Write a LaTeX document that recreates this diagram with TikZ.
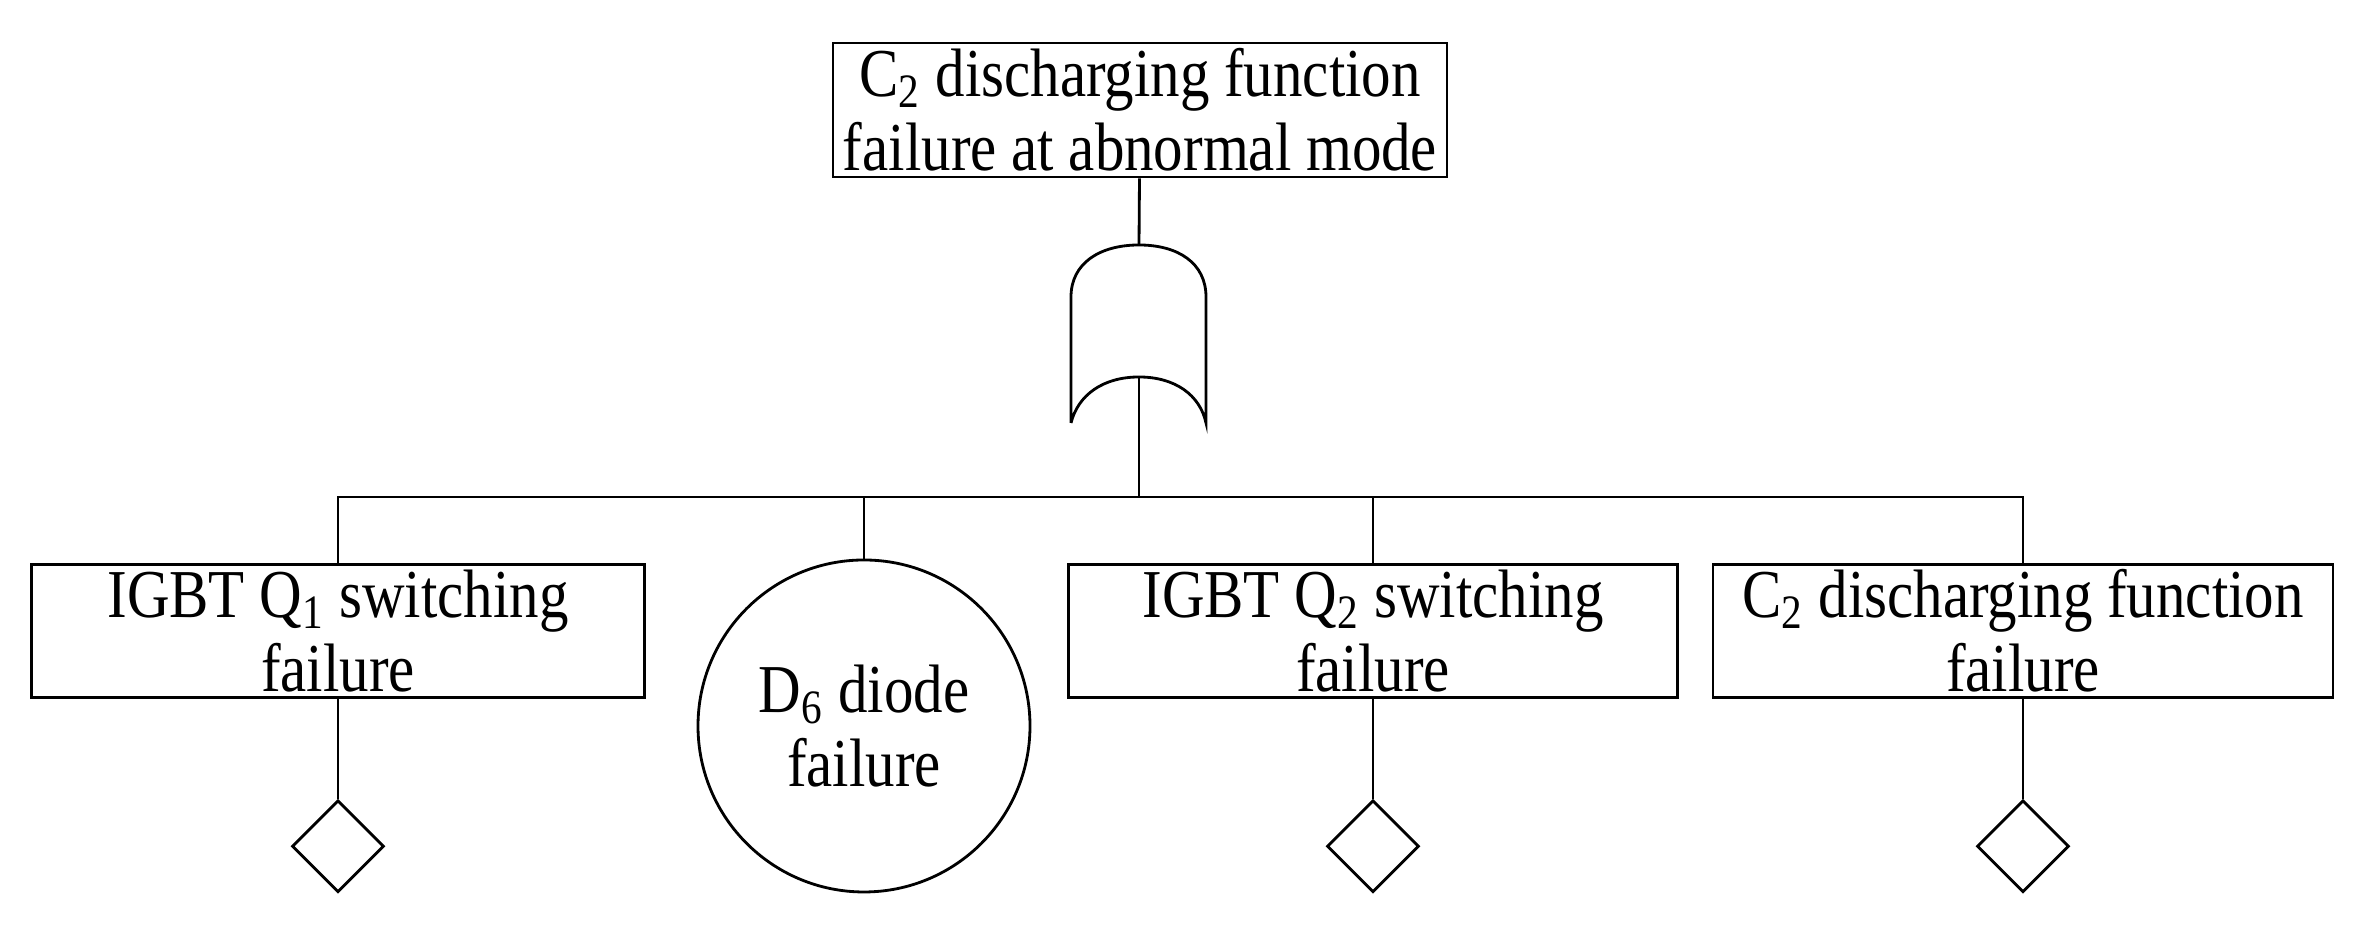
\documentclass[tikz,border=0pt]{standalone}
\usepackage{fontspec}
\setmainfont{Liberation Serif}[FakeStretch=0.86]
\usetikzlibrary{shapes.geometric}
\tikzset{
  event/.style={rectangle, draw, thick, text centered, align=center, inner sep=0pt,
                minimum height=1.33cm, font=\fontsize{19.5}{21}\selectfont},
  basic/.style={circle, draw, thick, minimum size=3.32cm, align=center, inner sep=0pt,
                font=\fontsize{19.5}{21}\selectfont},
  undev/.style={diamond, draw, thick, minimum size=0.92cm, inner sep=0pt},
}
\begin{document}
\begin{tikzpicture}[thick]
\useasboundingbox (0,0) rectangle (23.75,9.25);
% top event
\node [event, minimum width=6.14cm, minimum height=1.34cm] (top) at (11.40,8.15) {C\textsubscript{2} discharging function\\ failure at abnormal mode};
% OR gate
\coordinate (gtop) at (11.39,6.80);
\coordinate (gbot) at (11.39,5.48);
\draw (10.71,5.02) -- (10.71,6.28) .. controls (10.71,6.62) and (11.00,6.80) .. (gtop)
      .. controls (11.78,6.80) and (12.06,6.62) .. (12.06,6.28) -- (12.06,5.02)
      .. controls (12.00,5.30) and (11.75,5.48) .. (gbot)
      .. controls (11.03,5.48) and (10.78,5.30) .. (10.71,5.02);
\draw (top) -- (gtop);
% lower events
\node [event, minimum width=6.13cm] (q1) at (3.38,2.94) {IGBT Q\textsubscript{1} switching\\ failure};
\node [basic] (d6) at (8.64,1.99) {D\textsubscript{6} diode\\ failure};
\node [event, minimum width=6.09cm] (q2) at (13.73,2.94) {IGBT Q\textsubscript{2} switching\\ failure};
\node [event, minimum width=6.20cm] (c2) at (20.23,2.94) {C\textsubscript{2} discharging function\\ failure};
% bus
\coordinate (bus) at (11.39,4.28);
\draw (gbot) -- (bus);
\draw (q1.north) |- (bus) -| (c2.north);
\draw (d6.north) -- (d6.north |- bus);
\draw (q2.north) -- (q2.north |- bus);
% undeveloped events
\foreach \n in {q1,q2,c2} {
  \node [undev, anchor=north] (u\n) at ([yshift=-1.00cm]\n.south) {};
  \draw (\n.south) -- (u\n.north);
}
\end{tikzpicture}
\end{document}
